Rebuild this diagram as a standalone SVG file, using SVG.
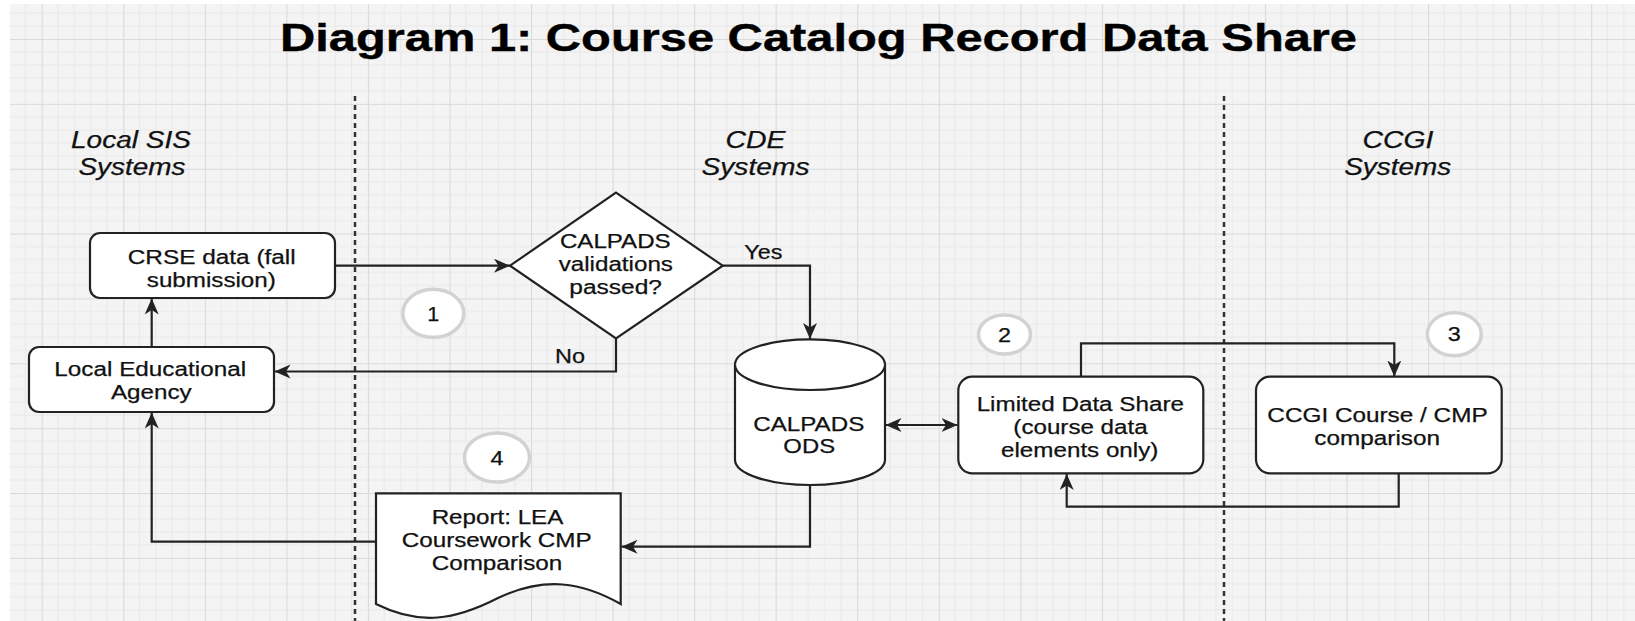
<svg xmlns="http://www.w3.org/2000/svg" width="1635" height="621" viewBox="0 0 1635 621">
<style>
.node{fill:#fff;stroke:#222;stroke-width:2.2}
.t{font-family:"Liberation Sans",Arial,sans-serif;font-size:20px;fill:#111;text-anchor:middle;stroke:#111;stroke-width:0.25}
.h{font-family:"Liberation Sans",Arial,sans-serif;font-size:23px;font-style:italic;fill:#111;text-anchor:middle;stroke:#111;stroke-width:0.25}
.title{font-family:"Liberation Sans",Arial,sans-serif;font-size:39px;font-weight:bold;fill:#000;text-anchor:middle;stroke:#000;stroke-width:0.4}
.badge{fill:#fff;stroke:#d2d2d2;stroke-width:3.5}
.lane{stroke:#333;stroke-width:2.5;stroke-dasharray:5 4;fill:none}
.edge{fill:none;stroke:#222;stroke-width:2.2}
</style>
<defs>
<pattern id="grid" patternUnits="userSpaceOnUse" x="41.7" y="39" width="81.55" height="64.86">
<rect width="81.55" height="64.86" fill="#f4f4f4"/>
<path d="M16.31,0V64.86M32.62,0V64.86M48.93,0V64.86M65.24,0V64.86M0,12.97H81.55M0,25.94H81.55M0,38.92H81.55M0,51.89H81.55" stroke="#e9e9e9" stroke-width="1"/>
<path d="M0.5,0V64.86M0,0.5H81.55" stroke="#dadada" stroke-width="1.2"/>
</pattern>
<marker id="arr" markerUnits="userSpaceOnUse" markerWidth="17" markerHeight="15" refX="16" refY="7" orient="auto-start-reverse" viewBox="0 0 17 15">
<path d="M0,0 L16,7 L0,14 L4.5,7 Z" fill="#222"/>
</marker>
</defs>
<rect width="1635" height="621" fill="#fff"/>
<rect x="10" y="4" width="1625" height="617" fill="url(#grid)"/>

<g id="lanes">
<line class="lane" x1="355" y1="96" x2="355" y2="621"/>
<line class="lane" x1="1224" y1="96" x2="1224" y2="621"/>
</g>

<g id="title"><text class="title" x="818.5" y="51" textLength="1077" lengthAdjust="spacingAndGlyphs">Diagram 1: Course Catalog Record Data Share</text></g>

<g id="lane-labels">
<text class="h" x="131" y="148" textLength="120" lengthAdjust="spacingAndGlyphs">Local SIS</text>
<text class="h" x="132" y="175" textLength="107" lengthAdjust="spacingAndGlyphs">Systems</text>
<text class="h" x="755.5" y="148" textLength="60" lengthAdjust="spacingAndGlyphs">CDE</text>
<text class="h" x="755.5" y="175" textLength="108" lengthAdjust="spacingAndGlyphs">Systems</text>
<text class="h" x="1398" y="148" textLength="71" lengthAdjust="spacingAndGlyphs">CCGI</text>
<text class="h" x="1397.7" y="175" textLength="107" lengthAdjust="spacingAndGlyphs">Systems</text>
</g>

<g id="connectors">
<path class="edge" d="M151.7,347 L151.7,298.5" marker-end="url(#arr)"/>
<path class="edge" d="M335,265.7 L510,265.7" marker-end="url(#arr)"/>
<path class="edge" d="M722.7,265.7 L810,265.7 L810,339" marker-end="url(#arr)"/>
<path class="edge" d="M616,338.3 L616,371.5 L274.5,371.5" marker-end="url(#arr)"/>
<path class="edge" d="M885.5,425 L957.5,425" marker-start="url(#arr)" marker-end="url(#arr)"/>
<path class="edge" d="M1081,377 L1081,343.3 L1394.3,343.3 L1394.3,376.5" marker-end="url(#arr)"/>
<path class="edge" d="M1398.7,473.3 L1398.7,506.7 L1066.7,506.7 L1066.7,474" marker-end="url(#arr)"/>
<path class="edge" d="M810,485 L810,546.7 L621.5,546.7" marker-end="url(#arr)"/>
<path class="edge" d="M376,541.7 L151.7,541.7 L151.7,412.5" marker-end="url(#arr)"/>
<text class="t" x="763.3" y="258.7" textLength="38" lengthAdjust="spacingAndGlyphs">Yes</text>
<text class="t" x="570" y="362.7" textLength="30" lengthAdjust="spacingAndGlyphs">No</text>
</g>

<g id="crse">
<rect class="node" x="90" y="233" width="245" height="65" rx="10"/>
<text class="t" x="211.7" y="263.5" textLength="168" lengthAdjust="spacingAndGlyphs">CRSE data (fall</text>
<text class="t" x="211.3" y="287" textLength="129" lengthAdjust="spacingAndGlyphs">submission)</text>
</g>

<g id="lea">
<rect class="node" x="29" y="347" width="245" height="65" rx="10"/>
<text class="t" x="150.2" y="376" textLength="191.7" lengthAdjust="spacingAndGlyphs">Local Educational</text>
<text class="t" x="151.3" y="399" textLength="80.7" lengthAdjust="spacingAndGlyphs">Agency</text>
</g>

<g id="decision">
<polygon class="node" points="616,192.7 722.7,265.7 616,338.3 510,265.7"/>
<text class="t" x="615.3" y="248" textLength="110.7" lengthAdjust="spacingAndGlyphs">CALPADS</text>
<text class="t" x="615.8" y="271" textLength="114.3" lengthAdjust="spacingAndGlyphs">validations</text>
<text class="t" x="615.6" y="294" textLength="92.7" lengthAdjust="spacingAndGlyphs">passed?</text>
</g>

<g id="ods">
<path class="node" d="M735,364.7 A75,25.3 0 0 1 885,364.7 L885,459.7 A75,25.3 0 0 1 735,459.7 Z"/>
<path class="node" d="M735,364.7 A75,25.3 0 0 0 885,364.7" fill="none"/>
<text class="t" x="808.8" y="431.3" textLength="111" lengthAdjust="spacingAndGlyphs">CALPADS</text>
<text class="t" x="809.2" y="453.3" textLength="51.7" lengthAdjust="spacingAndGlyphs">ODS</text>
</g>

<g id="lds">
<rect class="node" x="958.3" y="376.7" width="245" height="96.6" rx="14"/>
<text class="t" x="1080.3" y="411" textLength="207.3" lengthAdjust="spacingAndGlyphs">Limited Data Share</text>
<text class="t" x="1080.5" y="434" textLength="134.3" lengthAdjust="spacingAndGlyphs">(course data</text>
<text class="t" x="1079.7" y="457" textLength="157.3" lengthAdjust="spacingAndGlyphs">elements only)</text>
</g>

<g id="ccgi">
<rect class="node" x="1256" y="376.7" width="245.7" height="96.6" rx="14"/>
<text class="t" x="1377.5" y="422" textLength="220.3" lengthAdjust="spacingAndGlyphs">CCGI Course / CMP</text>
<text class="t" x="1377.2" y="444.5" textLength="125.7" lengthAdjust="spacingAndGlyphs">comparison</text>
</g>

<g id="report">
<path class="node" d="M376,493.3 L620.7,493.3 L620.7,604 C582,582 545,576 498,598 C455,620 420,626 376,604 Z"/>
<text class="t" x="497.5" y="524.3" textLength="131.7" lengthAdjust="spacingAndGlyphs">Report: LEA</text>
<text class="t" x="496.7" y="547" textLength="190" lengthAdjust="spacingAndGlyphs">Coursework CMP</text>
<text class="t" x="497" y="570.3" textLength="130.7" lengthAdjust="spacingAndGlyphs">Comparison</text>
</g>

<g id="step1">
<ellipse class="badge" cx="433.3" cy="313.3" rx="30.5" ry="24"/>
<text class="t" x="433.3" y="320.5" textLength="12" lengthAdjust="spacingAndGlyphs">1</text>
</g>
<g id="step2">
<ellipse class="badge" cx="1004.5" cy="334.5" rx="26" ry="19.5"/>
<text class="t" x="1004.5" y="341.7" textLength="13" lengthAdjust="spacingAndGlyphs">2</text>
</g>
<g id="step3">
<ellipse class="badge" cx="1454.3" cy="334.2" rx="27" ry="21.5"/>
<text class="t" x="1454.3" y="341.4" textLength="13" lengthAdjust="spacingAndGlyphs">3</text>
</g>
<g id="step4">
<ellipse class="badge" cx="497" cy="457.5" rx="32.5" ry="24.5"/>
<text class="t" x="497" y="464.7" textLength="13" lengthAdjust="spacingAndGlyphs">4</text>
</g>
</svg>
